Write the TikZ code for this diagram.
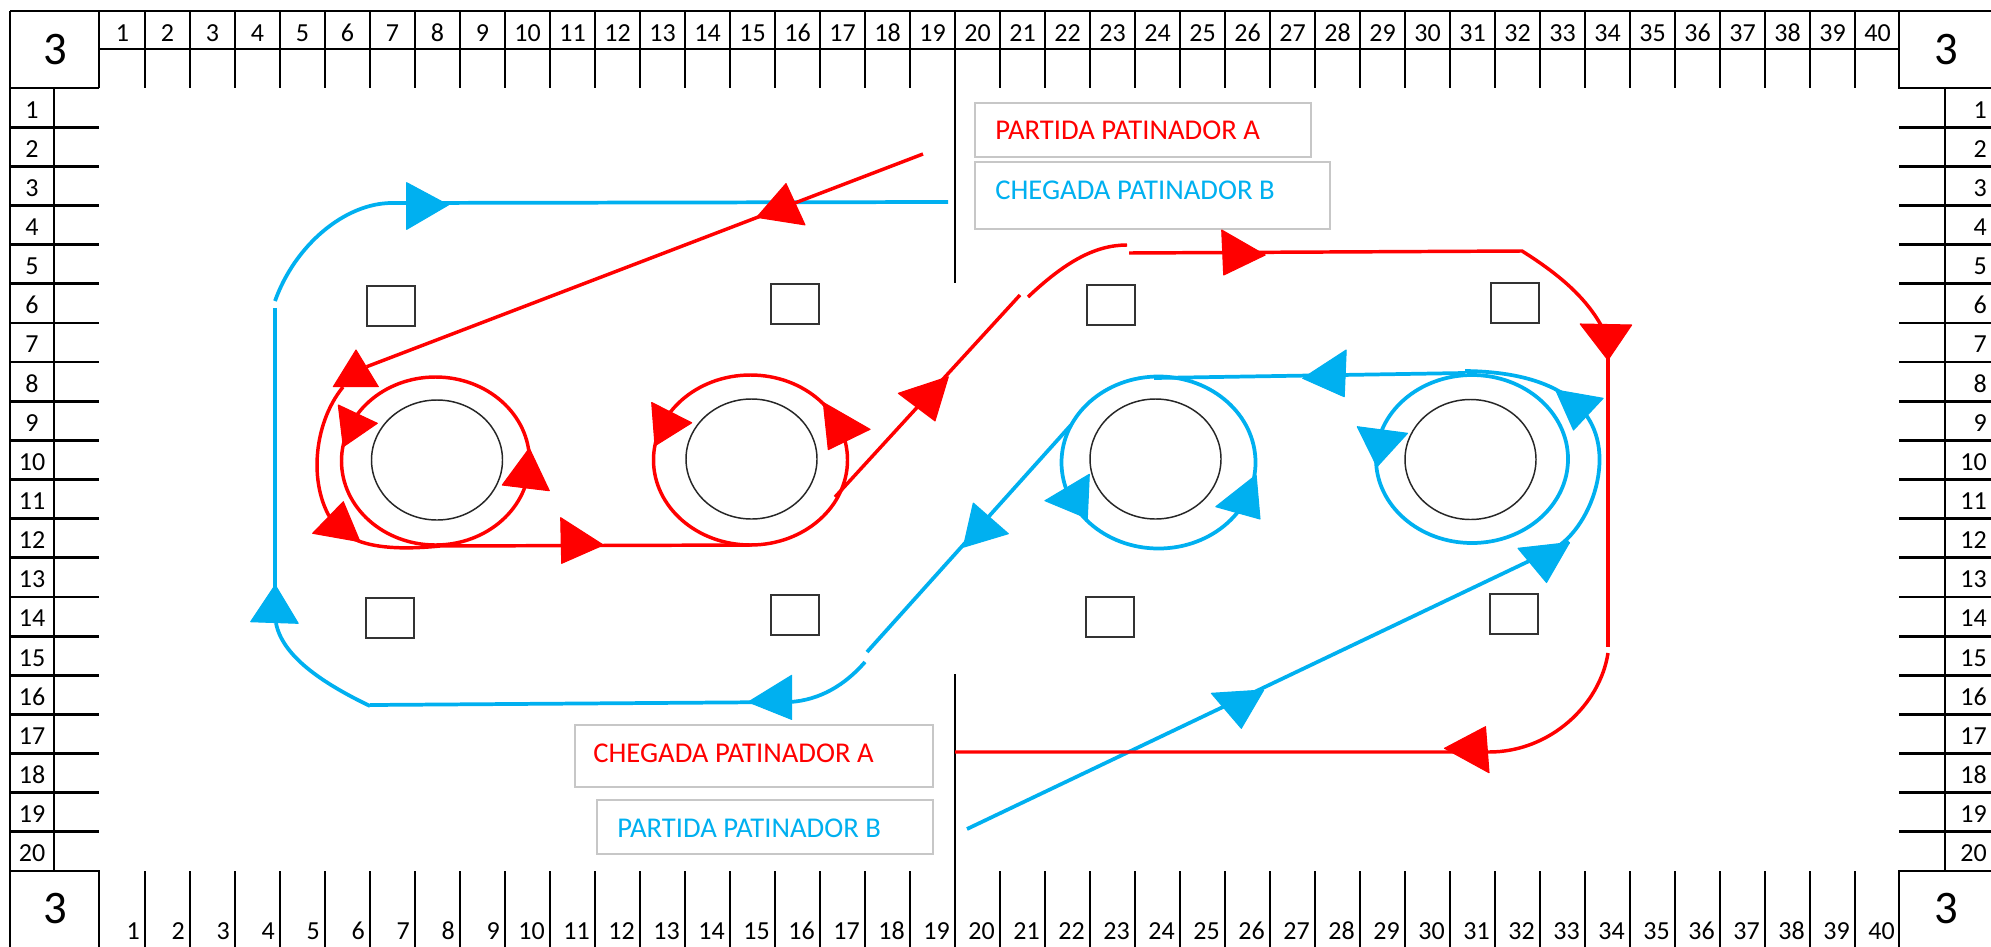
\documentclass[tikz,border=0pt]{standalone}
\usepackage{fontspec}
\setmainfont{Carlito}
\definecolor{rd}{HTML}{FF0000}
\definecolor{bl}{HTML}{00B0F0}
\begin{document}
\begin{tikzpicture}[x=0.75pt,y=-0.75pt,
  rul/.style={draw=black,line width=2.1pt},
  cline/.style={draw=black,line width=1.6pt},
  rp/.style={draw=rd,line width=2.6pt},
  bp/.style={draw=bl,line width=2.8pt},
  rtri/.style={fill=rd,draw=rd,line width=0.8pt,line join=round},
  btri/.style={fill=bl,draw=bl,line width=0.8pt,line join=round},
  sq/.style={draw=black!80,line width=1.5pt},
  blk/.style={draw=black!85,line width=1.1pt},
  lbox/.style={draw=black!22,line width=1.2pt},
  num/.style={font=\fontsize{19.5}{21}\selectfont,inner sep=0pt},
  big/.style={font=\fontsize{35}{40}\selectfont,inner sep=0pt},
  lbl/.style={font=\fontsize{21.5}{24}\selectfont,inner sep=0pt,anchor=west}]
\useasboundingbox (0,0) rectangle (1991,946);
\fill[white] (0,0) rectangle (1991,946);

% ---------- rulers ----------
\draw[rul] (10,11) -- (1995,11);
\draw[rul] (10,11) -- (10,960);
\draw[rul] (99,11) -- (99,88);
\draw[rul] (10,88) -- (99,88);
\draw[rul] (99,49) -- (1899,49);
\draw[rul] (1899,11) -- (1899,88) -- (1995,88);
\draw[rul] (54,88) -- (54,871);
\draw[rul] (1945,88) -- (1945,871);
\draw[rul] (10,871) -- (99,871) -- (99,960);
\draw[rul] (1995,871) -- (1899,871) -- (1899,960);
\foreach \i in {1,...,39} {
  \pgfmathsetmacro\xx{100+45*\i}
  \draw[rul] (\xx,11) -- (\xx,88);
  \draw[rul] (\xx,871) -- (\xx,960);
}
\foreach \j in {1,...,19} {
  \pgfmathsetmacro\yy{88+39.15*\j}
  \draw[rul] (10,\yy) -- (99,\yy);
  \draw[rul] (1899,\yy) -- (1995,\yy);
}
\foreach \i in {1,...,40} {
  \pgfmathsetmacro\xc{77.5+45*\i}
  \pgfmathsetmacro\xr{95+45*\i}
  \node[num,anchor=base] (t\i) at (\xc,41) {\i};
  \node[num,anchor=base east] (b\i) at (\xr,939) {\i};
}
\foreach \j in {1,...,20} {
  \pgfmathsetmacro\yb{118+39.15*(\j-1)}
  \node[num,anchor=base] (l\j) at (32,\yb) {\j};
  \node[num,anchor=base east] (r\j) at (1987,\yb) {\j};
}
\node[big] (c1) at (55,50) {3};
\node[big] (c2) at (1946,50) {3};
\node[big] (c3) at (55,909) {3};
\node[big] (c4) at (1946,909) {3};

% centre line
\draw[cline] (955,88) -- (955,283);
\draw[cline] (955,674) -- (955,960);

% ---------- squares ----------
\foreach \cx/\cy in {391/306,795/304,1111/305,1515/303,390/618,795/615,1110/617,1514/614}
  \draw[sq] (\cx-24,\cy-20) rectangle (\cx+24,\cy+20);

% ---------- obstacles ----------
\foreach \cx/\cy in {437/460,751.5/459,1155.5/459,1470.5/459.5}
  \draw[blk] (\cx,\cy) ellipse [x radius=65.5, y radius=60];

% ---------- labels ----------
\draw[lbox] (975,103) rectangle (1311,157);
\draw[lbox] (975,162) rectangle (1330,229);
\draw[lbox] (575,725) rectangle (933,787);
\draw[lbox] (597,800) rectangle (933,854);
\node[lbl,text=rd] (pa) at (995,130) {PARTIDA PATINADOR A};
\node[lbl,text=bl] (cb) at (995,190) {CHEGADA PATINADOR B};
\node[lbl,text=rd] (ca) at (593,753) {CHEGADA PATINADOR A};
\node[lbl,text=bl] (pb) at (617,828) {PARTIDA PATINADOR B};

% ---------- blue skater ----------
\draw[bp] (967,829) -- (1569,542);
\draw[bp] (1465,371) .. controls (1560,372) and (1605,410) .. (1599,470)
                     .. controls (1596,500) and (1580,530) .. (1560,545);
\draw[bp] (1472,459) ellipse [x radius=96, y radius=84];
\draw[bp] (1465,373) -- (1154,378);
\draw[bp] (1158.5,462.5) ellipse [x radius=97, y radius=86];
\draw[bp] (1071,425) -- (867,652);
\draw[bp] (865,662) .. controls (845,685) and (820,700) .. (790,702) -- (370,705);
\draw[bp] (370,706) .. controls (320,682) and (282,655) .. (276,623);
\draw[bp] (275,590) -- (275,308);
\draw[bp] (275,301) .. controls (295,245) and (345,203) .. (392,203) -- (948,202);

% ---------- red skater ----------
\draw[rp] (923,154) -- (366.7,366.7);
\draw[rp] (343,387) .. controls (312,425) and (308,490) .. (335,525)
                    .. controls (350,543) and (380,552) .. (440,546);
\draw[rp] (440,546) -- (752,545);
\draw[rp] (435.5,461) ellipse [x radius=94, y radius=84];
\draw[rp] (750.5,460) ellipse [x radius=97, y radius=85];
\draw[rp] (835,497) -- (1020,295);
\draw[rp] (1028,297) .. controls (1065,262) and (1095,245) .. (1127,245);
\draw[rp] (1129,253) -- (1522,251) .. controls (1560,275) and (1590,300) .. (1606,335);
\draw[rp] (1608,340) -- (1608,647);
\draw[rp] (1608,653) .. controls (1600,705) and (1550,752) .. (1489,752) -- (955,752);

% ---------- blue arrowheads ----------
\filldraw[btri] (406.7,182.7) -- (406.7,229.3) -- (448.3,205) -- cycle;
\filldraw[btri] (1211.4,693.3) -- (1263.7,690) -- (1241.3,728.3) -- cycle;
\filldraw[btri] (1518,548.3) -- (1569.5,542.5) -- (1546.5,582.5) -- cycle;
\filldraw[btri] (1555.7,390) -- (1603.1,398.3) -- (1573.5,430) -- cycle;
\filldraw[btri] (1357.3,426.7) -- (1407.5,433.3) -- (1377,466.7) -- cycle;
\filldraw[btri] (1302.7,378.3) -- (1346.2,350) -- (1344.2,396.7) -- cycle;
\filldraw[btri] (1045,500.7) -- (1089.3,474.3) -- (1087.3,518.3) -- cycle;
\filldraw[btri] (1215.8,506.7) -- (1256.1,475) -- (1260,519) -- cycle;
\filldraw[btri] (973.3,503.1) -- (1008.3,533.7) -- (963.3,547.2) -- cycle;
\filldraw[btri] (748.3,702) -- (791.7,675.3) -- (791.7,719.4) -- cycle;
\filldraw[btri] (250.7,621.7) -- (275.2,585) -- (298.2,623.3) -- cycle;

% ---------- red arrowheads ----------
\filldraw[rtri] (333.3,386.7) -- (356,350) -- (378.3,386.7) -- cycle;
\filldraw[rtri] (312.7,533.3) -- (343.3,501.7) -- (360,541.7) -- cycle;
\filldraw[rtri] (338.3,405) -- (377.3,423.3) -- (343.3,446.7) -- cycle;
\filldraw[rtri] (529.3,448.3) -- (549.3,490.7) -- (502.3,485) -- cycle;
\filldraw[rtri] (560.7,517.7) -- (603.3,545) -- (561.7,563.3) -- cycle;
\filldraw[rtri] (651.7,402.5) -- (691.7,422.8) -- (655,445.7) -- cycle;
\filldraw[rtri] (823.3,402.5) -- (870,429.3) -- (828.3,449.6) -- cycle;
\filldraw[rtri] (898.3,393.3) -- (948.3,376.8) -- (935,420.9) -- cycle;
\filldraw[rtri] (1221.7,230) -- (1265.2,255) -- (1223.7,275) -- cycle;
\filldraw[rtri] (1580.2,324) -- (1631.6,325) -- (1607.9,360) -- cycle;
\filldraw[rtri] (1444.5,748.3) -- (1485.5,726.7) -- (1489,772.7) -- cycle;
\filldraw[rtri] (756.7,217.3) -- (786,183.6) -- (805,224.9) -- cycle;
\end{tikzpicture}
\end{document}
